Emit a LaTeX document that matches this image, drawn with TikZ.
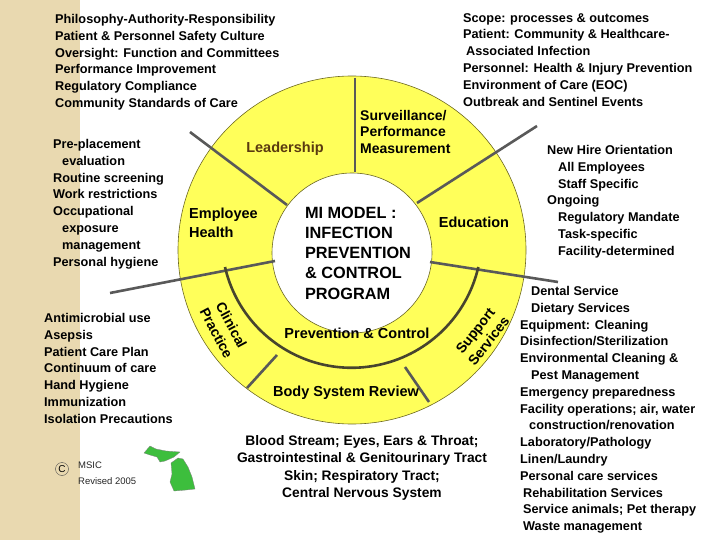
\documentclass[tikz,border=0pt]{standalone}
\usepackage{fontspec}
\setmainfont{Liberation Sans}
\begin{document}
\begin{tikzpicture}[x=1pt,y=-1pt,
  lst/.style={font=\bfseries\fontsize{12.7}{16.8}\selectfont, align=left, inner sep=0pt},
  lbl/.style={font=\bfseries\fontsize{14.5}{17}\selectfont, inner sep=0pt},
  spoke/.style={draw=black!65, line width=2.6pt}]
\definecolor{wheel}{HTML}{FFFF5A}
\definecolor{beige}{HTML}{E9D9B0}
\definecolor{brownt}{HTML}{5A3A10}
\definecolor{mgreen}{HTML}{3DBE3D}
\useasboundingbox (0,0) rectangle (720,540);
\fill[beige] (0,0) rectangle (80,540);
% wheel
\node[circle, draw=olive!70!black, fill=wheel, minimum size=348pt, inner sep=0pt, line width=0.6pt] (outer) at (352,250) {};
\node[circle, draw=olive!70!black, fill=white, minimum size=160pt, inner sep=0pt, line width=0.6pt] (inner) at (352,253) {};
\coordinate (ulo) at (190,132); \coordinate (uli) at (287,205);
\coordinate (to) at (355,78); \coordinate (ti) at (355,172);
\coordinate (uro) at (537,126); \coordinate (uri) at (417,203);
\coordinate (lo) at (110,293); \coordinate (li) at (275,261);
\coordinate (ro) at (558,282); \coordinate (ri) at (430,262);
\coordinate (bla) at (277,355); \coordinate (blb) at (247,388);
\coordinate (bra) at (405,367); \coordinate (brb) at (429,402);
\draw[spoke] (ulo) -- (uli);
\draw[spoke] (to) -- (ti);
\draw[spoke] (uro) -- (uri);
\draw[spoke] (lo) -- (li);
\draw[spoke] (ro) -- (ri);
\draw[spoke] (bla) -- (blb);
\draw[spoke] (bra) -- (brb);
\draw[draw=black!65!olive, line width=2.6pt] (225,267) arc[start angle=167, end angle=13, radius=130];
% wheel labels
\node[lbl, text=brownt] (lead) at (285,149) {Leadership};
\node[lbl, align=left, anchor=north west, font=\bfseries\fontsize{14}{16.5}\selectfont] (surv) at (360,110) {Surveillance/\\Performance\\Measurement};
\node[lbl, align=left, anchor=north west, font=\bfseries\fontsize{14.5}{19}\selectfont] (emp) at (189,208) {Employee\\Health};
\node[lbl] (edu) at (474,222) {Education};
\node[lbl] (prev) at (357,333) {Prevention \& Control};
\node[lbl] (body) at (346,393) {Body System Review};
\node[lbl, rotate=-62, align=center, font=\bfseries\fontsize{14}{17}\selectfont] (clin) at (224,329) {Clinical\\Practice};
\node[lbl, rotate=52, align=center, font=\bfseries\fontsize{14}{17}\selectfont] (supp) at (482,336) {Support\\Services};
\node[align=left, inner sep=0pt, font=\fontsize{16.3}{20.2}\selectfont\bfseries] (center) at (358,253) {MI MODEL :\\INFECTION\\PREVENTION\\\& CONTROL\\PROGRAM};
% lists
\node[lst, anchor=north west] (leadl) at (55,14) {Philosophy-Authority-Responsibility\\Patient \& Personnel Safety Culture\\Oversight: Function and Committees\\Performance Improvement\\Regulatory Compliance\\Community Standards of Care};
\node[lst, anchor=north west] (empl) at (53,139) {Pre-placement\\\hspace{9pt}evaluation\\Routine screening\\Work restrictions\\Occupational\\\hspace{9pt}exposure\\\hspace{9pt}management\\Personal hygiene};
\node[lst, anchor=north west] (clinl) at (44,313) {Antimicrobial use\\Asepsis\\Patient Care Plan\\Continuum of care\\Hand Hygiene\\Immunization\\Isolation Precautions};
\node[lst, anchor=north west] (survl) at (463,13) {Scope: processes \& outcomes\\Patient: Community \& Healthcare-\\\hspace{3pt}Associated Infection\\Personnel: Health \& Injury Prevention\\Environment of Care (EOC)\\Outbreak and Sentinel Events};
\node[lst, anchor=north west] (edul) at (547,145) {New Hire Orientation\\\hspace{11pt}All Employees\\\hspace{11pt}Staff Specific\\Ongoing\\\hspace{11pt}Regulatory Mandate\\\hspace{11pt}Task-specific\\\hspace{11pt}Facility-determined};
\node[lst, anchor=north west] (suppl) at (520,286) {\hspace{11pt}Dental Service\\\hspace{11pt}Dietary Services\\Equipment: Cleaning\\Disinfection/Sterilization\\Environmental Cleaning \&\\\hspace{11pt}Pest Management\\Emergency preparedness\\Facility operations; air, water\\\hspace{9pt}construction/renovation\\Laboratory/Pathology\\Linen/Laundry\\Personal care services\\\hspace{3pt}Rehabilitation Services\\\hspace{3pt}Service animals; Pet therapy\\\hspace{3pt}Waste management};
\node[align=center, inner sep=0pt, font=\bfseries\fontsize{13.8}{17.3}\selectfont] (bodyl) at (362,468) {Blood Stream; Eyes, Ears \& Throat;\\Gastrointestinal \& Genitourinary Tract\\Skin; Respiratory Tract;\\Central Nervous System};
% copyright
\node[circle, draw=black!70, inner sep=0pt, minimum size=13pt, font=\fontsize{10}{10}\selectfont] (copy) at (62,469) {C};
\node[align=left, anchor=north west, inner sep=0pt, font=\fontsize{9.5}{16}\selectfont, text=black!85] (msic) at (78,462) {MSIC\\Revised 2005};
% Michigan
\fill[mgreen, draw=black!50, line width=0.3pt] (144,453) -- (150,446) -- (156,449) -- (166,451) -- (180,452) -- (174,457) -- (165,461) -- (160,462) -- (157,457) -- (150,455) -- cycle;
\fill[mgreen, draw=black!50, line width=0.3pt] (171,463) -- (178,458) -- (183,459) -- (188,467) -- (192,477) -- (195,489) -- (186,490) -- (174,491) -- (170,482) -- (172,474) -- cycle;
\end{tikzpicture}
\end{document}
